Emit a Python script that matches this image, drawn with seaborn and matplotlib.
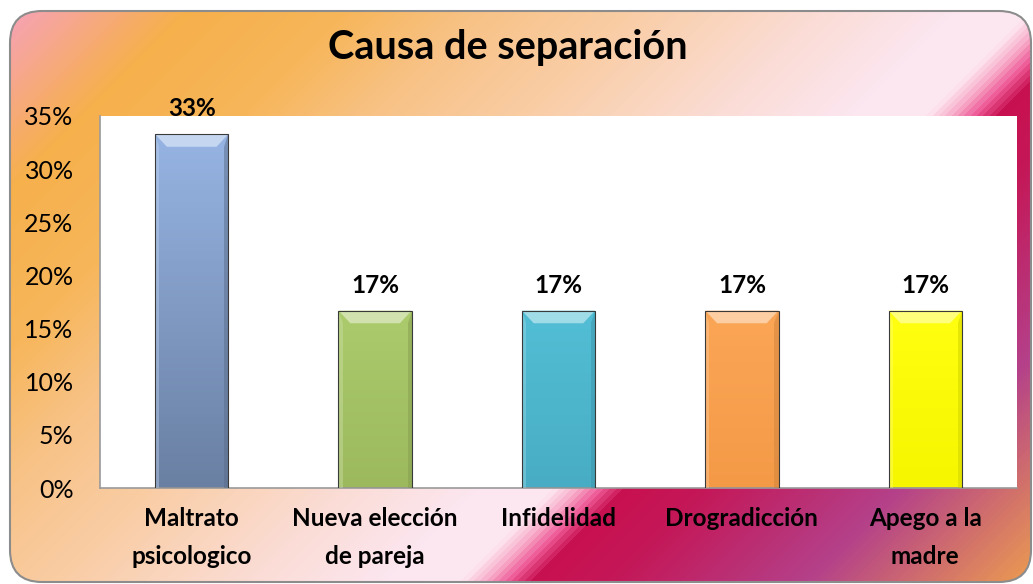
import numpy as np
import pandas as pd
import matplotlib
matplotlib.use("Agg")
import matplotlib.pyplot as plt
import seaborn as sns
from matplotlib.colors import LinearSegmentedColormap, to_rgb
from matplotlib.patches import FancyBboxPatch, Polygon
from matplotlib.ticker import PercentFormatter, MultipleLocator

# data
categories = ["Maltrato\npsicologico", "Nueva elección\nde pareja", "Infidelidad",
              "Drogradicción", "Apego a la\nmadre"]
values = [0.333, 0.167, 0.167, 0.167, 0.167]
title = "Causa de separación"

# bar styling (top colour, bottom colour)
top_colors = ["#96B4E3", "#ABCB6C", "#52BED5", "#FBA656", "#FFFF10"]
bottom_colors = ["#6A80A3", "#9CB95E", "#48ADC4", "#F49A47", "#F6F600"]

sns.set_theme(style="white")
plt.rcParams["font.family"] = ["Lato", "DejaVu Sans"]

W, H = 1033, 584
fig = plt.figure(figsize=(W / 100, H / 100), dpi=100)

# background card with diagonal gradient
bg = fig.add_axes([0, 0, 1, 1], zorder=0)
bg.set_xlim(0, W)
bg.set_ylim(H, 0)
bg.axis("off")
stops = [(0.0, "#F7A0C4"), (0.12, "#F6B04C"), (0.22, "#F7B65A"), (0.30, "#F8C286"),
         (0.39, "#F9CCA2"), (0.51, "#FBDCD4"), (0.60, "#FCE6F0"), (0.645, "#FDE8F2"),
         (0.66, "#F8B0CC"), (0.675, "#EE5C98"), (0.69, "#C8104F"), (0.74, "#C41858"),
         (0.86, "#B4418A"), (1.0, "#EC9C50")]
cmap = LinearSegmentedColormap.from_list("card", stops)
xx, yy = np.meshgrid(np.arange(W), np.arange(H))
t = (xx + 1.0 * yy) / (W + 1.0 * H)
card = FancyBboxPatch((10, 11), W - 12, H - 13, boxstyle="round,pad=0,rounding_size=32",
                      facecolor="none", edgecolor="#8C8C8C", linewidth=1.5, zorder=3)
bg.add_patch(card)
img = bg.imshow(t, cmap=cmap, extent=(0, W, H, 0), aspect="auto", zorder=1)
img.set_clip_path(card)

# main chart
ax = fig.add_axes([100 / W, (H - 488) / H, 917 / W, 372 / H], zorder=1)
ax.set_facecolor("white")
df = pd.DataFrame({"cat": categories, "val": values})
sns.barplot(data=df, x="cat", y="val", hue="cat", palette=top_colors, legend=False,
            width=0.40, edgecolor="#3A3A3A", linewidth=0.8, ax=ax)

bars = sorted([p for p in ax.patches if p.get_height() > 0], key=lambda p: p.get_x())

ax.set_ylim(0, 0.35)
ax.set_xlim(-0.5, len(categories) - 0.5)
ax.yaxis.set_major_locator(MultipleLocator(0.05))
ax.yaxis.set_major_formatter(PercentFormatter(1.0, decimals=0))
ax.set_xlabel("")
ax.set_ylabel("")
for s in ["top", "right"]:
    ax.spines[s].set_visible(False)
for s in ["left", "bottom"]:
    ax.spines[s].set_color("#9A9A9A")
    ax.spines[s].set_linewidth(1.2)
ax.tick_params(axis="y", length=0, pad=19, labelsize=18, labelcolor="black")
ax.tick_params(axis="x", length=0, pad=14)
ax.set_xticks(range(len(categories)))
ax.set_xticklabels(categories, fontsize=17.5, fontweight="bold", linespacing=1.75,
                   color="black")

# bar shading: vertical gradient + bevel
dx = 0.065
dy = 0.012
for i, p in enumerate(bars):
    x0, w, h = p.get_x(), p.get_width(), p.get_height()
    grad = LinearSegmentedColormap.from_list("b", [bottom_colors[i], top_colors[i]])
    im = ax.imshow(np.linspace(0, 1, 100).reshape(-1, 1), cmap=grad, origin="lower",
                   extent=(x0, x0 + w, 0, h), aspect="auto", zorder=2)
    im.set_clip_path(p)
    base = np.array(to_rgb(top_colors[i]))
    light = tuple(base + (1 - base) * 0.45)
    dark = tuple(np.array(to_rgb(bottom_colors[i])) * 0.85)
    ax.add_patch(Polygon([(x0, h), (x0 + w, h), (x0 + w - dx, h - dy), (x0 + dx, h - dy)],
                         closed=True, facecolor=light, edgecolor="none", zorder=3))
    ax.add_patch(Polygon([(x0 + w, h), (x0 + w, 0), (x0 + w - dx * 0.35, 0),
                          (x0 + w - dx * 0.35, h - dy)],
                         closed=True, facecolor=dark, edgecolor="none", alpha=0.5, zorder=3))
    ax.add_patch(Polygon([(x0, h), (x0, 0), (x0 + dx * 0.35, 0), (x0 + dx * 0.35, h - dy)],
                         closed=True, facecolor=light, edgecolor="none", alpha=0.4, zorder=3))
    p.set_zorder(4)
    p.set_facecolor("none")
    ax.annotate(f"{values[i]:.0%}", (x0 + w / 2, h), xytext=(0, 10),
                textcoords="offset points", ha="center", va="bottom",
                fontsize=17.5, fontweight="bold", color="black", annotation_clip=False)

ax.set_xlim(-0.5, len(categories) - 0.5)
ax.set_ylim(0, 0.35)

fig.text(508 / W, 1 - 47 / H, title, ha="center", va="center",
         fontsize=28.5, fontweight="bold", color="black")

fig.savefig("out.png", dpi=100)
